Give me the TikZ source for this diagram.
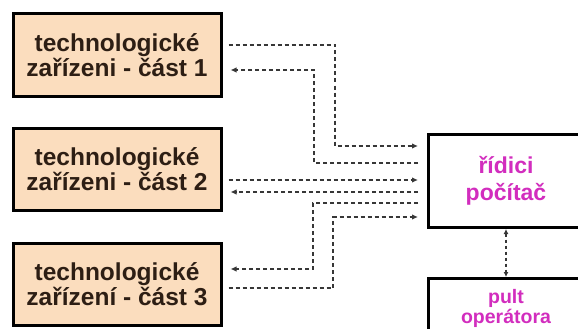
\documentclass[tikz,border=0pt]{standalone}
\usepackage{fontspec}
\setmainfont{Liberation Sans}
\usetikzlibrary{arrows.meta}
\definecolor{peach}{RGB}{251,221,190}
\definecolor{boxtext}{RGB}{45,30,20}
\definecolor{mag}{RGB}{210,45,190}
\definecolor{conncol}{RGB}{55,55,55}
\begin{document}
\begin{tikzpicture}[x=1pt,y=-1pt,
  techbox/.style={draw=black, line width=3pt, fill=peach, minimum width=208pt, minimum height=82pt, inner sep=0pt, align=center, font=\fontsize{24.5}{25}\selectfont\bfseries, text=boxtext},
  ctrlbox/.style={draw=black, line width=3pt, fill=white, minimum width=155pt, inner sep=0pt, align=center, text=mag},
  conn/.style={draw=conncol, line width=1.8pt, dash pattern=on 4pt off 3pt},
  arr/.style={-{Latex[length=6pt,width=5.5pt]}},
  toright/.style={shorten <=6pt, shorten >=9pt},
  toleft/.style={shorten <=9pt, shorten >=8pt}
]
\useasboundingbox[fill=white] (0,0) rectangle (578,329);
\clip (0,0) rectangle (578,329);
\node[techbox] (t1) at (117,55) {technologické\\zařízeni - část 1};
\node[techbox] (t2) at (117,169.5) {technologické\\zařízeni - část 2};
\node[techbox] (t3) at (117,284.5) {technologické\\zařízení - část 3};
\node[ctrlbox, minimum height=93pt, font=\fontsize{23}{27}\selectfont\bfseries] (pc) at (506,181) {řídici\\počítač};
\node[ctrlbox, minimum height=59pt, font=\fontsize{19.5}{20}\selectfont\bfseries] (pult) at (506,308) {pult\\operátora};
% box 1
\draw[conn,arr,toright] (t1.east |- 0,45) -| (335,146) -- (pc.west |- 0,146);
\draw[conn,arr,toleft] (pc.west |- 0,163) -| (314,70) -- (t1.east |- 0,70);
% box 2
\draw[conn,arr,toright] (t2.east |- 0,180) -- (pc.west |- 0,180);
\draw[conn,arr,toleft] (pc.west |- 0,192) -- (t2.east |- 0,192);
% box 3
\draw[conn,arr,toleft] (pc.west |- 0,203) -| (313,269) -- (t3.east |- 0,269);
\draw[conn,arr,toright] (t3.east |- 0,288) -| (333,217) -- (pc.west |- 0,217);
% computer - operator desk
\draw[conn, dash pattern=on 3pt off 3pt, {Latex[length=5pt,width=5pt]}-{Latex[length=5pt,width=5pt]}] (pc.south) -- (pult.north);
\end{tikzpicture}
\end{document}
